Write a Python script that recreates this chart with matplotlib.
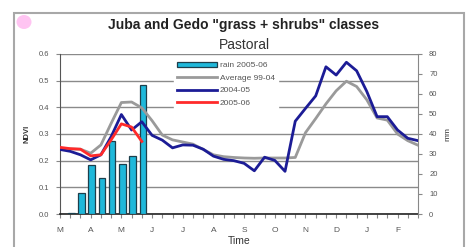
import numpy as np
import matplotlib.pyplot as plt
from matplotlib.patches import Rectangle, Ellipse

plt.rcParams['font.family'] = ['Liberation Sans', 'DejaVu Sans']

# Dekad index (0 = first dekad of March ... 35 = last dekad of February)
month_labels = ['M', 'A', 'M', 'J', 'J', 'A', 'S', 'O', 'N', 'D', 'J', 'F']

# NDVI, average 1999-2004
ndvi_avg = [0.246, 0.244, 0.243, 0.228, 0.259, 0.340, 0.418, 0.420, 0.398, 0.350,
            0.296, 0.278, 0.270, 0.262, 0.242, 0.222, 0.215, 0.212, 0.210, 0.209,
            0.210, 0.210, 0.210, 0.212, 0.305, 0.358, 0.413, 0.462, 0.498, 0.478,
            0.428, 0.360, 0.352, 0.300, 0.275, 0.258]

# NDVI 2004-05
ndvi_0405 = [0.242, 0.235, 0.222, 0.203, 0.222, 0.290, 0.373, 0.315, 0.346, 0.295,
             0.277, 0.248, 0.259, 0.258, 0.243, 0.217, 0.205, 0.200, 0.190, 0.162,
             0.213, 0.201, 0.160, 0.348, 0.396, 0.443, 0.552, 0.521, 0.569, 0.537,
             0.459, 0.365, 0.365, 0.315, 0.284, 0.275]

# NDVI 2005-06 (available dekads only)
ndvi_0506 = [0.250, 0.245, 0.243, 0.218, 0.222, 0.278, 0.338, 0.326, 0.272]

# rainfall 2005-06 (mm), dekads 1..8
rain_0506 = [0.5, 10.7, 24.5, 18.2, 36.5, 24.8, 29.0, 64.5]

W, H = 470, 247
fig = plt.figure(figsize=(W / 100, H / 100), dpi=100)

# outer frame and the little pink dot
fig.patches.append(Rectangle((14 / W, -0.1), 450 / W, 1.1 - 12.7 / H,
                             transform=fig.transFigure, fill=False,
                             edgecolor='#a8a8a8', linewidth=1.5))
fig.patches.append(Ellipse((24 / W, 1 - 22 / H), 15 / W, 14 / H,
                           transform=fig.transFigure, facecolor='#ffc4f2',
                           edgecolor='none'))

fig.text(244 / W, 1 - 25 / H, 'Juba and Gedo "grass + shrubs" classes',
         ha='center', va='center', fontsize=10, fontweight='bold', color='#222222')
fig.text(244 / W, 1 - 45 / H, 'Pastoral', ha='center', va='center',
         fontsize=10, color='#333333')

pos = [60 / W, (H - 214) / H, 358 / W, 160 / H]
ax = fig.add_axes(pos)
ax2 = ax.twinx()
ax3 = fig.add_axes(pos, sharex=ax, sharey=ax)

ax.set_zorder(0)
ax2.set_zorder(1)
ax3.set_zorder(2)
ax2.patch.set_visible(False)
ax3.patch.set_visible(False)
ax3.set_axis_off()

n = len(ndvi_avg)
x = np.arange(n)

# left axis: NDVI with grid
ax.set_xlim(0, n - 1)
ax.set_ylim(0, 0.6)
ax.set_yticks(np.arange(0, 0.61, 0.1))
ax.set_yticklabels(['%.1f' % v for v in np.arange(0, 0.61, 0.1)])
ax.yaxis.grid(True, color='#8a8a8a', linewidth=1.0)
ax.set_axisbelow(True)
ax.set_xticks(np.arange(0, n, 1), minor=True)
ax.set_xticks(np.arange(0, n, 3))
ax.set_xticklabels(month_labels)
ax.tick_params(axis='x', which='both', direction='out', length=3, width=0.8,
               colors='#888888', labelcolor='#555555', labelsize=6, pad=6)
ax.tick_params(axis='y', direction='out', length=3, width=0.8, colors='#888888',
               labelcolor='#555555', labelsize=5.5, pad=5)
ax.set_ylabel('NDVI', fontsize=5.5, fontweight='bold', color='#333333', labelpad=6)
ax.set_xlabel('Time', fontsize=7.5, color='#333333', labelpad=2)
for side in ['top', 'right']:
    ax.spines[side].set_visible(False)
ax.spines['left'].set_color('#555555')
ax.spines['bottom'].set_color('#222222')
ax.spines['bottom'].set_linewidth(1.2)

# right axis: rainfall
bars = ax2.bar(np.arange(1, len(rain_0506) + 1) + 0.1, rain_0506, width=0.65,
               color='#1fb8da', edgecolor='#1d3f4c', linewidth=0.9,
               label='rain 2005-06')
ax2.set_ylim(0, 80)
ax2.set_yticks(np.arange(0, 81, 10))
ax2.tick_params(axis='y', direction='out', length=3, width=0.8, colors='#888888',
                labelcolor='#555555', labelsize=5.5, pad=5)
ax2.set_ylabel('mm', fontsize=6, color='#333333', rotation=90, labelpad=5)
for side in ['top', 'left', 'bottom']:
    ax2.spines[side].set_visible(False)
ax2.spines['right'].set_color('#888888')

# NDVI lines on top
l_avg, = ax3.plot(x, ndvi_avg, color='#9a9a9a', linewidth=2.0, label='Average 99-04')
l_0405, = ax3.plot(x, ndvi_0405, color='#1c1c96', linewidth=2.0, label='2004-05')
l_0506, = ax3.plot(np.arange(len(ndvi_0506)), ndvi_0506, color='#ff2a2a',
                   linewidth=2.0, label='2005-06')

leg = ax3.legend(handles=[bars, l_avg, l_0405, l_0506],
                 loc='upper left', bbox_to_anchor=(170 / W, 1 - 55 / H),
                 bbox_transform=fig.transFigure, frameon=True, fancybox=False,
                 fontsize=6, handlelength=4.8, handleheight=0.6,
                 labelspacing=0.6, borderpad=0.3, handletextpad=0.4)
leg.get_frame().set_facecolor('white')
leg.get_frame().set_edgecolor('white')
leg.get_frame().set_alpha(1)
for t in leg.get_texts():
    t.set_color('#555555')

fig.savefig('out.png', dpi=100)
